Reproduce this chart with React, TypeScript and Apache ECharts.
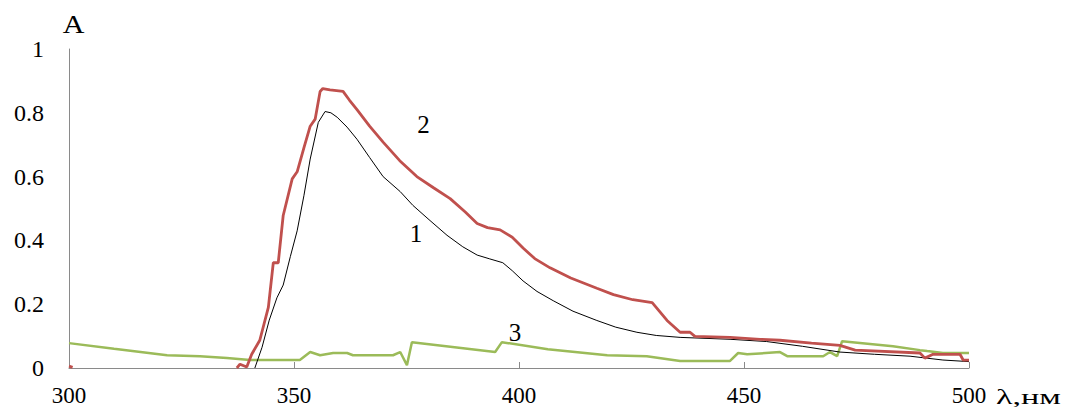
import React, { useEffect, useRef } from "react";
import * as echarts from "echarts";

const xTicks = [300, 350, 400, 450, 500];
const yTicks = [0, 0.2, 0.4, 0.6, 0.8, 1];

const curve1: [number, number][] = [
  [341.3, 0], [342.9, 0.065], [344.5, 0.15], [346.2, 0.22], [347.6, 0.26], [349.2, 0.35],
  [350.7, 0.43], [352.2, 0.54], [353.6, 0.655], [355.4, 0.77], [356.9, 0.804], [358.2, 0.8],
  [359.6, 0.786], [361.8, 0.755], [364, 0.717], [366.8, 0.66], [369.8, 0.6], [373.6, 0.553],
  [376.4, 0.51], [380, 0.465], [384, 0.416], [387.5, 0.38], [390.7, 0.354], [393.5, 0.342],
  [396.4, 0.33], [398.5, 0.305], [400.9, 0.273], [404, 0.24], [407.6, 0.211], [412, 0.178],
  [417.3, 0.149], [421.5, 0.128], [426.2, 0.112], [430.5, 0.102], [435.8, 0.096],
  [446.9, 0.09], [455, 0.083], [463, 0.068], [471.3, 0.05], [479, 0.043],
  [486.9, 0.037], [494.2, 0.025], [500, 0.02],
];

const curve2: ([number, number] | [number, null])[] = [
  [300, 0.006], [300.8, 0.002], [301.2, null],
  [337.3, 0], [338, 0.012], [339.5, 0.003], [340.6, 0.043], [342.4, 0.087], [344.3, 0.19],
  [345.4, 0.33], [346.5, 0.33], [347.6, 0.478], [349.6, 0.593], [350.7, 0.615], [352.2, 0.69],
  [353.6, 0.758], [354.7, 0.78], [355.8, 0.867], [356.4, 0.876], [358, 0.872], [360.9, 0.867],
  [362.3, 0.84], [364, 0.81], [366.8, 0.758], [369.8, 0.708], [373.5, 0.65], [377.3, 0.6],
  [381, 0.565], [384.7, 0.531], [388, 0.49], [390.7, 0.453], [393, 0.44],
  [395.8, 0.433], [398.5, 0.41], [400.9, 0.376], [403.5, 0.343], [406.9, 0.314], [411.5, 0.282],
  [417.3, 0.25], [421, 0.23], [425.3, 0.214],
  [429.6, 0.205], [432.9, 0.149], [435.8, 0.112], [438, 0.112], [439.1, 0.099], [446.9, 0.096],
  [453.6, 0.09], [458, 0.087], [465, 0.078], [471.3, 0.071], [474.7, 0.056], [489.1, 0.047],
  [490.2, 0.031], [492, 0.043], [498, 0.043], [498.7, 0.025], [500, 0.025],
];

const curve3: [number, number][] = [
  [300, 0.078], [310, 0.06], [321.8, 0.04], [329.1, 0.037], [335.1, 0.031], [340.2, 0.025],
  [351.3, 0.025], [353.6, 0.05], [355.8, 0.04], [358.7, 0.047], [361.8, 0.047], [363.1, 0.04],
  [372, 0.04], [373.6, 0.05], [375.1, 0.009], [376.2, 0.081], [394.7, 0.05], [396.2, 0.081],
  [406.4, 0.059], [419.6, 0.04], [428.4, 0.037], [435.8, 0.022], [446.9, 0.022], [448.7, 0.047],
  [450.7, 0.043], [458, 0.05], [459.6, 0.037], [467.6, 0.037], [469.1, 0.05], [470.7, 0.037],
  [471.8, 0.084], [483.1, 0.068], [489.1, 0.056], [490.7, 0.053], [494.2, 0.047], [500, 0.047],
];

const serif = "Liberation Serif";

export default function App() {
  const ref = useRef<HTMLDivElement>(null);
  useEffect(() => {
    if (!ref.current) return;
    const chart = echarts.init(ref.current, undefined, { renderer: "svg" });
    const txt = (
      text: string, x: number, y: number, size: number, scaleX = 1, align = "center",
    ) => ({
      type: "text",
      x,
      y,
      scaleX,
      style: { text, fontFamily: serif, fontSize: size, fill: "#000", align, verticalAlign: "middle" },
    });
    chart.setOption({
      animation: false,
      backgroundColor: "#ffffff",
      textStyle: { fontFamily: serif },
      grid: { left: 69, right: 98, top: 49, bottom: 36 },
      xAxis: {
        type: "value",
        min: xTicks[0],
        max: xTicks[xTicks.length - 1],
        interval: 50,
        splitLine: { show: false },
        axisLine: { show: true, lineStyle: { color: "#8a8a8a", width: 1 } },
        axisTick: { show: true, inside: true, length: 6, lineStyle: { color: "#8a8a8a" } },
        axisLabel: { color: "#000", fontFamily: serif, fontSize: 23, margin: 16 },
      },
      yAxis: {
        type: "value",
        min: yTicks[0],
        max: yTicks[yTicks.length - 1],
        interval: 0.2,
        splitLine: { show: false },
        axisLine: { show: true, lineStyle: { color: "#8a8a8a", width: 1 } },
        axisTick: { show: false },
        axisLabel: {
          color: "#000",
          fontFamily: serif,
          fontSize: 24,
          margin: 25,
          formatter: (v: number) => String(Number(v.toFixed(1))),
        },
      },
      series: [
        {
          type: "line", data: curve1, showSymbol: false, symbol: "none",
          lineStyle: { color: "#000000", width: 1 }, z: 3,
        },
        {
          type: "line", data: curve2, showSymbol: false, symbol: "none", connectNulls: false,
          lineStyle: { color: "#C0504D", width: 2.8 }, z: 4,
        },
        {
          type: "line", data: curve3, showSymbol: false, symbol: "none",
          lineStyle: { color: "#9BBB59", width: 2.5 }, z: 2,
        },
      ],
      graphic: [
        txt("A", 73.5, 24, 25, 1.2),
        txt("2", 423.5, 124, 25),
        txt("1", 416, 233, 25),
        txt("3", 515, 332.5, 25),
        txt("λ,нм", 996, 396, 22, 1.55, "left"),
      ],
    });
    return () => chart.dispose();
  }, []);
  return (
    <div
      ref={ref}
      style={{ position: "fixed", left: 0, top: 0, width: 1067, height: 407 }}
    />
  );
}
